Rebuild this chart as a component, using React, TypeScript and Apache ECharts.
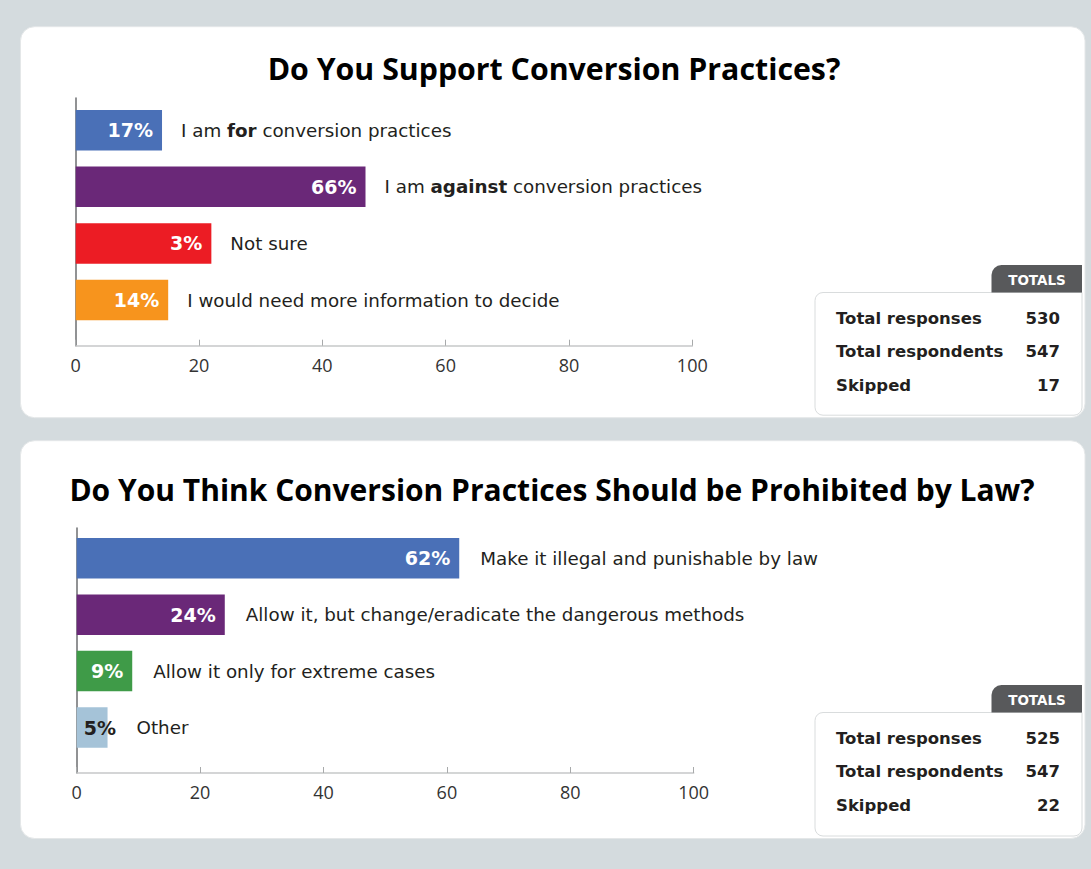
import React, { useEffect, useRef } from "react";
import * as echarts from "echarts";

// ---------- data ----------
const axisTicks = [0, 20, 40, 60, 80, 100];

const topTitle = "Do You Support Conversion Practices?";
const topCategories = [
  "I am for conversion practices",
  "I am against conversion practices",
  "Not sure",
  "I would need more information to decide",
];
const topRichLabels = [
  "I am {b|for} conversion practices",
  "I am {b|against} conversion practices",
  "Not sure",
  "I would need more information to decide",
];
const topBarValues = [14, 47, 22, 15];
const topPercentLabels = ["17%", "66%", "3%", "14%"];
const topColors = ["#4a70b7", "#6a2878", "#ec1c24", "#f7941d"];
const topTotalsValues = ["530", "547", "17"];

const bottomTitle = "Do You Think Conversion Practices Should be Prohibited by Law?";
const bottomCategories = [
  "Make it illegal and punishable by law",
  "Allow it, but change/eradicate the dangerous methods",
  "Allow it only for extreme cases",
  "Other",
];
const bottomBarValues = [62, 24, 9, 5];
const bottomPercentLabels = ["62%", "24%", "9%", "5%"];
const bottomColors = ["#4a70b7", "#6a2878", "#3f9b48", "#a5c3d8"];
const bottomTotalsValues = ["525", "547", "22"];

const totalsLabels = ["Total responses", "Total respondents", "Skipped"];
const totalsHeader = "TOTALS";

const TITLE_FONT = "Open Sans";
const AXIS_FONT = "Open Sans";
const BODY_FONT = "DejaVu Sans";
const TEXT = "#231f20";

function panelGraphics(
  panelTop: number,
  panelBottom: number,
  tabTop: number,
  values: string[]
) {
  const boxTop = tabTop + 27.5;
  const boxBottom = panelBottom - 2.5;
  const els: any[] = [
    {
      type: "rect",
      z: -10,
      shape: { x: 20.5, y: panelTop, width: 1064.5, height: panelBottom - panelTop, r: 14 },
      style: { fill: "#ffffff", stroke: "#e4e7e8", lineWidth: 1 },
    },
    {
      type: "rect",
      z: -9,
      shape: { x: 815, y: boxTop, width: 267, height: boxBottom - boxTop, r: [8, 0, 8, 8] },
      style: { fill: "#ffffff", stroke: "#d9dcdd", lineWidth: 1 },
    },
    {
      type: "rect",
      z: -8,
      shape: { x: 991.5, y: tabTop, width: 90.5, height: 27.5, r: [10, 0, 0, 0] },
      style: { fill: "#58595b" },
    },
    {
      type: "text",
      z: -7,
      style: {
        text: totalsHeader,
        x: 1037,
        y: tabTop + 15,
        fill: "#ffffff",
        fontFamily: BODY_FONT,
        fontSize: 13.5,
        fontWeight: 700,
        textAlign: "center",
        align: "center",
        textVerticalAlign: "middle",
        verticalAlign: "middle",
      },
    },
  ];
  totalsLabels.forEach((lab, i) => {
    const y = boxTop + 25.5 + i * 33.5;
    els.push({
      type: "text",
      z: -7,
      style: {
        text: lab,
        x: 836,
        y,
        fill: TEXT,
        fontFamily: BODY_FONT,
        fontSize: 16.5,
        fontWeight: 700,
        textAlign: "left",
        align: "left",
        textVerticalAlign: "middle",
        verticalAlign: "middle",
      },
    });
    els.push({
      type: "text",
      z: -7,
      style: {
        text: values[i],
        x: 1060,
        y,
        fill: TEXT,
        fontFamily: BODY_FONT,
        fontSize: 16.5,
        fontWeight: 700,
        textAlign: "right",
        align: "right",
        textVerticalAlign: "middle",
        verticalAlign: "middle",
      },
    });
  });
  return els;
}

function axisPair(gridIndex: number) {
  const x = {
    type: "value",
    gridIndex,
    min: axisTicks[0],
    max: axisTicks[axisTicks.length - 1],
    interval: axisTicks[1] - axisTicks[0],
    axisLine: { show: true, lineStyle: { color: "#c6c8c9", width: 1.5 } },
    axisTick: { show: true, inside: true, length: 6, lineStyle: { color: "#a8aaab", width: 1 } },
    axisLabel: { color: "#333333", fontFamily: AXIS_FONT, fontSize: 18, margin: 10 },
    splitLine: { show: false },
  };
  const y = {
    type: "value",
    gridIndex,
    min: 0,
    max: 1,
    axisLine: { show: true, lineStyle: { color: "#6d6e70", width: 1.5 } },
    axisTick: { show: false },
    axisLabel: { show: false },
    splitLine: { show: false },
  };
  return { x, y };
}

function barAxes(gridIndex: number, cats: string[]) {
  return {
    x: { type: "value", gridIndex, min: 0, max: 100, show: false, splitLine: { show: false } },
    y: { type: "category", gridIndex, data: cats, inverse: true, show: false },
  };
}

function barSeries(
  axisIndex: number,
  values: number[],
  colors: string[],
  pct: string[],
  rich: string[],
  gap: number,
  darkIdx: number[],
  extraGap: Record<number, number>
) {
  const main = {
    type: "bar",
    xAxisIndex: axisIndex,
    yAxisIndex: axisIndex,
    barWidth: 40.5,
    barGap: "-100%",
    z: 3,
    data: values.map((v, i) => ({
      value: v,
      itemStyle: { color: colors[i] },
      label: darkIdx.includes(i)
        ? { position: "insideLeft", distance: 7, color: TEXT }
        : undefined,
    })),
    label: {
      show: true,
      position: "insideRight",
      distance: 9,
      color: "#ffffff",
      fontFamily: BODY_FONT,
      fontSize: 19,
      fontWeight: 700,
      formatter: (p: any) => pct[p.dataIndex],
    },
  };
  const text = {
    type: "bar",
    xAxisIndex: axisIndex,
    yAxisIndex: axisIndex,
    barWidth: 40.5,
    barGap: "-100%",
    z: 4,
    silent: true,
    data: values.map((v, i) => ({
      value: v,
      itemStyle: { color: "rgba(0,0,0,0)" },
      label: extraGap[i] !== undefined ? { distance: extraGap[i] } : undefined,
    })),
    label: {
      show: true,
      position: "right",
      distance: gap,
      color: TEXT,
      fontFamily: BODY_FONT,
      fontSize: 18.3,
      formatter: (p: any) => rich[p.dataIndex],
      rich: {
        b: { fontFamily: BODY_FONT, fontSize: 18.3, fontWeight: 700, color: TEXT },
      },
    },
  };
  return [main, text];
}

export default function App() {
  const ref = useRef<HTMLDivElement>(null);

  useEffect(() => {
    document.body.style.margin = "0";
    if (!ref.current) return;
    const chart = echarts.init(ref.current, undefined, { renderer: "svg" });

    const a0 = axisPair(0);
    const b1 = barAxes(1, topCategories);
    const a2 = axisPair(2);
    const b3 = barAxes(3, bottomCategories);

    const option: any = {
      animation: false,
      backgroundColor: "#d4dbde",
      title: [
        {
          text: topTitle,
          left: 554,
          top: 50,
          textAlign: "center",
          padding: 0,
          textStyle: { fontFamily: TITLE_FONT, fontSize: 30.3, fontWeight: 700, color: "#000000", lineHeight: 36 },
        },
        {
          text: bottomTitle,
          left: 552,
          top: 471,
          textAlign: "center",
          padding: 0,
          textStyle: { fontFamily: TITLE_FONT, fontSize: 30, fontWeight: 700, color: "#000000", lineHeight: 36 },
        },
      ],
      grid: [
        { left: 75.7, top: 98, width: 616.6, height: 247.7 },
        { left: 75.7, top: 102, width: 616.6, height: 226.3 },
        { left: 76.7, top: 528, width: 617, height: 245 },
        { left: 76.7, top: 530.1, width: 617, height: 225.6 },
      ],
      xAxis: [a0.x, b1.x, a2.x, b3.x],
      yAxis: [a0.y, b1.y, a2.y, b3.y],
      series: [
        ...barSeries(1, topBarValues, topColors, topPercentLabels, topRichLabels, 19, [], {}),
        ...barSeries(3, bottomBarValues, bottomColors, bottomPercentLabels, bottomCategories, 21, [3], { 3: 29 }),
      ],
      graphic: {
        elements: [
          ...panelGraphics(26.7, 417.7, 265, topTotalsValues),
          ...panelGraphics(440.7, 838.5, 685, bottomTotalsValues),
        ],
      },
    };

    chart.setOption(option);
    return () => chart.dispose();
  }, []);

  return <div ref={ref} style={{ width: 1091, height: 869 }} />;
}
